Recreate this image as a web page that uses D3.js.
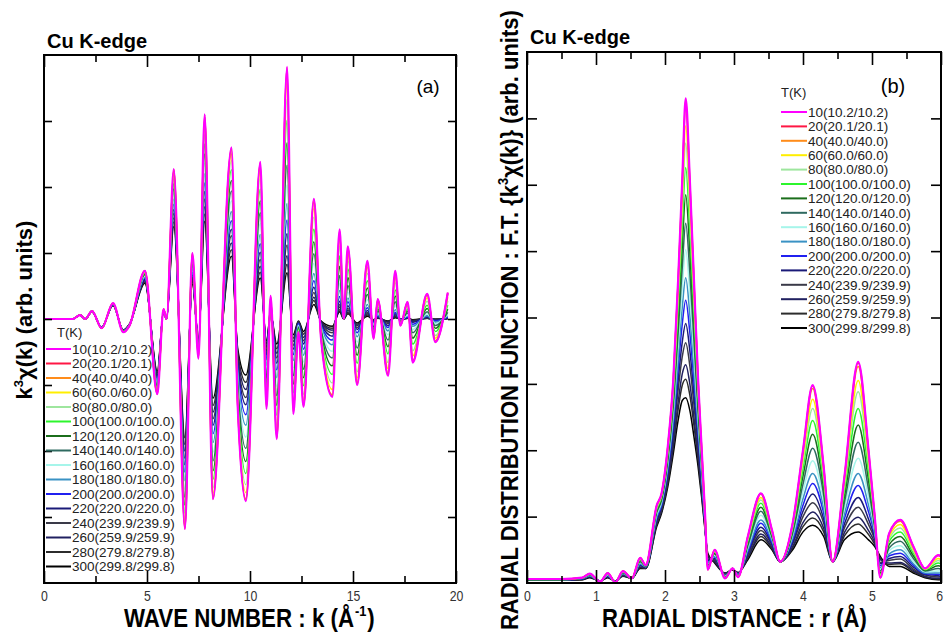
<!DOCTYPE html>
<html><head><meta charset="utf-8">
<script src="https://cdn.jsdelivr.net/npm/d3@7"></script>
<style>body{margin:0;background:#fff}svg{display:block}</style>
</head><body>
<svg id="chart" width="944" height="635"></svg>
<script>
// ---------- DATA ----------
const temperatures = [10,20,40,60,80,100,120,140,160,180,200,220,240,260,280,300];
const legendLabels = ["10(10.2/10.2)","20(20.1/20.1)","40(40.0/40.0)","60(60.0/60.0)","80(80.0/80.0)","100(100.0/100.0)","120(120.0/120.0)","140(140.0/140.0)","160(160.0/160.0)","180(180.0/180.0)","200(200.0/200.0)","220(220.0/220.0)","240(239.9/239.9)","260(259.9/259.9)","280(279.8/279.8)","300(299.8/299.8)"];
const xTicksA = [0,5,10,15,20];
const xTicksB = [0,1,2,3,4,5,6];

// panel (a): k^3 chi(k)
const kValues = [0,1.4,1.75,2.0,2.33,2.8,3.35,3.85,4.15,4.9,5.5,5.8,5.95,6.3,6.84,7.2,7.5,7.8,8.2,9.1,9.4,9.8,10.5,10.8,11.0,11.3,11.8,12.1,12.35,12.6,13.1,13.45,14.0,14.35,14.55,14.75,15.2,15.7,16.0,16.2,16.7,17.05,17.3,17.65,17.9,18.6,19.0,19.6];
const chi_10K  = [0,0,.06,0,.12,-.14,.24,-.20,-.10,.73,-1.14,.15,0,2.27,-3.18,1.00,-.60,3.10,-2.73,2.60,-1.30,-2.76,2.38,-1.36,.35,-1.82,3.82,-1.44,-.20,-1.33,1.82,-.30,-1.18,1.36,0,1.10,-1.00,.88,-.30,.30,-.86,.73,-.10,.26,-.66,.38,-.35,.40];
const chi_20K  = [0,0,.06,0,.12,-.14,.24,-.20,-.10,.73,-1.14,.15,0,2.27,-3.18,1.00,-.60,3.10,-2.73,2.59,-1.30,-2.75,2.37,-1.36,.35,-1.81,3.81,-1.43,-.20,-1.32,1.81,-.30,-1.17,1.35,0,1.09,-.99,.87,-.30,.30,-.85,.72,-.10,.26,-.65,.38,-.35,.40];
const chi_40K  = [0,0,.06,0,.12,-.14,.24,-.20,-.10,.73,-1.13,.15,0,2.26,-3.16,.99,-.60,3.07,-2.70,2.57,-1.28,-2.72,2.34,-1.34,.34,-1.79,3.74,-1.41,-.20,-1.30,1.77,-.29,-1.15,1.32,0,1.07,-.97,.85,-.29,.29,-.83,.70,-.10,.25,-.63,.36,-.33,.38];
const chi_60K  = [0,0,.06,0,.12,-.14,.24,-.20,-.10,.72,-1.12,.15,0,2.23,-3.11,.97,-.58,3.01,-2.64,2.50,-1.25,-2.63,2.26,-1.28,.33,-1.71,3.57,-1.34,-.19,-1.23,1.67,-.27,-1.07,1.23,0,.99,-.89,.78,-.26,.26,-.75,.63,-.09,.22,-.56,.32,-.29,.33];
const chi_80K  = [0,0,.06,0,.12,-.14,.24,-.20,-.10,.71,-1.11,.15,0,2.18,-3.04,.95,-.57,2.92,-2.56,2.40,-1.19,-2.51,2.14,-1.21,.31,-1.61,3.33,-1.25,-.17,-1.14,1.54,-.25,-.97,1.11,0,.89,-.80,.69,-.23,.23,-.66,.55,-.07,.19,-.48,.27,-.25,.27];
const chi_100K = [0,0,.06,0,.12,-.14,.24,-.19,-.10,.70,-1.08,.14,0,2.12,-2.94,.92,-.55,2.79,-2.43,2.26,-1.12,-2.34,1.97,-1.11,.28,-1.46,3.01,-1.12,-.15,-1.01,1.36,-.22,-.84,.96,0,.76,-.67,.58,-.19,.19,-.53,.44,-.06,.15,-.38,.21,-.19,.21];
const chi_120K = [0,0,.06,0,.12,-.14,.23,-.19,-.10,.69,-1.06,.14,0,2.05,-2.82,.88,-.52,2.65,-2.30,2.10,-1.04,-2.16,1.79,-1.01,.26,-1.31,2.67,-.99,-.14,-.89,1.17,-.19,-.71,.80,0,.63,-.55,.47,-.16,.15,-.42,.35,-.05,.12,-.29,.16,-.14,.15];
const chi_140K = [0,0,.06,0,.12,-.14,.23,-.19,-.09,.67,-1.02,.13,0,1.97,-2.70,.83,-.49,2.50,-2.15,1.94,-.95,-1.96,1.61,-.90,.23,-1.16,2.33,-.86,-.12,-.76,.99,-.16,-.59,.66,0,.51,-.44,.37,-.12,.12,-.32,.26,-.03,.09,-.21,.11,-.10,.10];
const chi_160K = [0,0,.06,0,.12,-.14,.23,-.19,-.09,.65,-.99,.13,0,1.90,-2.58,.79,-.47,2.36,-2.02,1.79,-.87,-1.79,1.45,-.80,.20,-1.02,2.03,-.74,-.10,-.65,.84,-.13,-.49,.54,0,.41,-.35,.29,-.09,.09,-.24,.20,-.03,.06,-.16,.08,-.07,.07];
const chi_180K = [0,0,.06,0,.12,-.13,.23,-.18,-.09,.64,-.96,.12,0,1.82,-2.45,.75,-.44,2.20,-1.87,1.63,-.79,-1.61,1.28,-.71,.18,-.89,1.75,-.63,-.09,-.55,.69,-.11,-.39,.43,0,.32,-.27,.22,-.07,.07,-.18,.14,-.02,.05,-.11,.05,-.05,.05];
const chi_200K = [0,0,.06,0,.12,-.13,.22,-.18,-.09,.62,-.93,.12,0,1.74,-2.32,.71,-.41,2.06,-1.74,1.49,-.72,-1.45,1.14,-.62,.16,-.77,1.50,-.54,-.07,-.46,.58,-.09,-.32,.34,0,.26,-.21,.17,-.05,.05,-.13,.10,-.01,.03,-.08,.04,-.03,.03];
const chi_220K = [0,0,.06,0,.11,-.13,.22,-.18,-.09,.60,-.90,.12,0,1.66,-2.21,.67,-.39,1.93,-1.61,1.36,-.65,-1.30,1.01,-.55,.14,-.67,1.29,-.46,-.06,-.38,.48,-.07,-.26,.27,0,.20,-.16,.13,-.04,.04,-.10,.08,-.01,.02,-.05,.03,-.02,.02];
const chi_240K = [0,0,.06,0,.11,-.13,.22,-.18,-.08,.59,-.87,.11,0,1.60,-2.11,.63,-.37,1.82,-1.51,1.26,-.60,-1.19,.90,-.49,.12,-.59,1.12,-.40,-.05,-.33,.40,-.06,-.21,.22,0,.16,-.13,.10,-.03,.03,-.07,.06,-.01,.02,-.04,.02,-.01,.01];
const chi_260K = [0,0,.06,0,.11,-.13,.21,-.17,-.08,.58,-.85,.11,0,1.53,-2.00,.60,-.34,1.70,-1.41,1.15,-.54,-1.07,.80,-.43,.11,-.52,.96,-.34,-.04,-.28,.33,-.05,-.17,.18,0,.13,-.10,.08,-.02,.02,-.05,.04,-.01,.01,-.03,.01,-.01,.01];
const chi_280K = [0,0,.06,0,.11,-.13,.21,-.17,-.08,.56,-.82,.10,0,1.47,-1.90,.57,-.32,1.59,-1.31,1.05,-.49,-.96,.71,-.38,.09,-.45,.83,-.29,-.04,-.23,.28,-.04,-.14,.14,0,.10,-.08,.06,-.02,.02,-.04,.03,0,.01,-.02,.01,-.01,.01];
const chi_300K = [0,0,.06,0,.11,-.13,.21,-.17,-.08,.54,-.79,.10,0,1.40,-1.80,.53,-.30,1.48,-1.20,.95,-.44,-.85,.62,-.33,.08,-.38,.70,-.24,-.03,-.19,.22,-.03,-.11,.11,0,.08,-.06,.04,-.01,.01,-.03,.02,0,.01,-.01,.01,0,0];

// panel (b): |F.T.| radial distribution
const rValues = [0,0.5,0.8,0.91,1.06,1.17,1.28,1.39,1.52,1.64,1.72,1.88,1.95,2.04,2.12,2.19,2.25,2.30,2.36,2.42,2.48,2.53,2.58,2.62,2.72,2.87,2.98,3.06,3.20,3.39,3.55,3.67,3.85,4.00,4.14,4.30,4.43,4.60,4.80,4.95,5.04,5.12,5.25,5.41,5.60,5.77,5.96,6.00];
const rdf_10K  = [.06,.06,.08,.14,.02,.15,.01,.18,.07,.38,.27,1.17,1.35,2.05,3.06,4.56,6.07,7.30,6.07,4.56,3.06,2.05,1.05,.20,.50,.07,.22,.09,.70,1.35,.80,.32,.90,2.00,2.98,1.75,.32,1.60,3.33,2.00,1.00,.08,.75,.95,.55,.22,.42,.40];
const rdf_20K  = [.06,.06,.08,.14,.02,.15,.01,.18,.07,.38,.27,1.17,1.35,2.05,3.06,4.55,6.06,7.29,6.06,4.55,3.06,2.05,1.05,.20,.50,.07,.22,.09,.70,1.35,.80,.32,.90,2.00,2.97,1.75,.32,1.60,3.32,2.00,1.00,.08,.75,.95,.55,.22,.42,.40];
const rdf_40K  = [.06,.06,.08,.14,.02,.15,.01,.18,.07,.38,.27,1.16,1.34,2.04,3.04,4.52,6.00,7.20,5.99,4.51,3.03,2.04,1.05,.20,.50,.07,.22,.09,.69,1.34,.79,.32,.89,1.97,2.93,1.73,.32,1.58,3.26,1.97,.99,.08,.74,.93,.54,.22,.41,.39];
const rdf_60K  = [.06,.06,.08,.14,.02,.15,.01,.18,.07,.37,.27,1.15,1.33,2.01,2.98,4.39,5.79,6.89,5.77,4.36,2.96,1.99,1.03,.21,.49,.07,.22,.09,.67,1.29,.78,.32,.87,1.89,2.77,1.66,.32,1.52,3.05,1.87,.96,.10,.70,.88,.51,.21,.37,.35];
const rdf_80K  = [.06,.06,.08,.13,.02,.14,.01,.17,.07,.36,.27,1.13,1.32,1.98,2.93,4.29,5.61,6.63,5.58,4.24,2.89,1.96,1.02,.22,.48,.08,.22,.10,.65,1.25,.76,.32,.85,1.82,2.63,1.60,.32,1.46,2.88,1.79,.94,.11,.67,.83,.48,.21,.34,.32];
const rdf_100K = [.06,.06,.07,.13,.02,.14,.01,.17,.07,.35,.26,1.11,1.30,1.94,2.85,4.13,5.35,6.26,5.30,4.06,2.80,1.91,1.01,.23,.47,.08,.22,.10,.63,1.20,.74,.32,.82,1.72,2.45,1.51,.32,1.39,2.63,1.67,.91,.13,.63,.77,.45,.20,.30,.29];
const rdf_120K = [.05,.05,.07,.13,.02,.13,.02,.16,.07,.34,.26,1.09,1.27,1.89,2.76,3.95,5.06,5.85,4.99,3.86,2.69,1.85,.99,.24,.45,.09,.22,.11,.60,1.14,.72,.32,.79,1.61,2.24,1.42,.32,1.30,2.38,1.54,.87,.15,.58,.70,.41,.19,.26,.25];
const rdf_140K = [.05,.05,.07,.12,.02,.13,.02,.16,.07,.32,.25,1.06,1.25,1.84,2.66,3.76,4.75,5.42,4.67,3.64,2.57,1.78,.97,.26,.44,.09,.22,.11,.56,1.08,.69,.32,.75,1.49,2.03,1.32,.32,1.21,2.12,1.41,.83,.18,.53,.63,.37,.18,.22,.21];
const rdf_160K = [.05,.05,.07,.12,.02,.12,.02,.15,.07,.31,.25,1.03,1.22,1.79,2.57,3.58,4.46,5.02,4.36,3.43,2.46,1.72,.94,.27,.42,.10,.21,.12,.53,1.02,.67,.32,.72,1.38,1.84,1.22,.32,1.13,1.88,1.29,.79,.20,.49,.56,.33,.17,.18,.18];
const rdf_180K = [.05,.05,.07,.11,.02,.12,.02,.14,.07,.29,.25,1.00,1.20,1.74,2.46,3.38,4.15,4.60,4.04,3.21,2.34,1.65,.92,.30,.40,.11,.21,.12,.50,.95,.64,.32,.68,1.27,1.65,1.13,.32,1.04,1.65,1.17,.75,.23,.44,.50,.29,.15,.15,.15];
const rdf_200K = [.05,.05,.06,.11,.03,.11,.02,.14,.07,.28,.24,.98,1.17,1.69,2.38,3.22,3.90,4.26,3.77,3.03,2.24,1.59,.90,.31,.39,.11,.21,.13,.47,.90,.61,.32,.65,1.17,1.50,1.05,.32,.97,1.47,1.07,.72,.26,.41,.45,.27,.14,.13,.12];
const rdf_220K = [.05,.05,.06,.10,.03,.10,.02,.13,.07,.27,.24,.95,1.15,1.64,2.28,3.05,3.63,3.91,3.50,2.84,2.13,1.52,.88,.34,.37,.12,.21,.14,.45,.84,.59,.32,.61,1.08,1.34,.96,.32,.89,1.29,.96,.68,.29,.37,.40,.24,.13,.11,.10];
const rdf_240K = [.05,.05,.06,.10,.03,.10,.02,.12,.07,.26,.23,.93,1.12,1.59,2.20,2.90,3.41,3.62,3.27,2.68,2.03,1.47,.86,.36,.35,.13,.21,.14,.42,.79,.57,.32,.59,1.00,1.21,.90,.32,.83,1.14,.88,.65,.31,.34,.36,.21,.12,.09,.09];
const rdf_260K = [.04,.04,.06,.09,.03,.09,.03,.11,.07,.24,.23,.90,1.10,1.54,2.10,2.72,3.15,3.29,3.00,2.49,1.92,1.40,.84,.39,.33,.14,.20,.15,.39,.74,.54,.32,.55,.91,1.07,.82,.32,.76,.99,.79,.61,.35,.30,.31,.19,.10,.07,.07];
const rdf_280K = [.04,.04,.05,.09,.03,.09,.03,.11,.07,.23,.22,.88,1.08,1.50,2.04,2.61,2.98,3.07,2.83,2.37,1.85,1.36,.82,.42,.32,.14,.20,.15,.38,.70,.52,.32,.53,.85,.98,.77,.32,.71,.89,.73,.58,.37,.28,.29,.17,.09,.06,.06];
const rdf_300K = [.04,.04,.05,.08,.03,.08,.03,.10,.07,.22,.22,.85,1.05,1.45,1.95,2.45,2.75,2.79,2.60,2.20,1.75,1.30,.80,.45,.30,.15,.20,.16,.35,.65,.50,.32,.50,.77,.87,.70,.32,.65,.77,.65,.55,.40,.25,.25,.15,.08,.05,.05];

const seriesColors = ["#ff00ff","#ff1744","#ff8c1a","#ffee00","#9ee69e","#2cf52c","#1b6e1b","#2f6a60","#a6f5ea","#3a92c4","#2020f0","#1a1a78","#3a3a48","#202060","#2c2c2c","#000000"];

const chiSeries = [chi_10K,chi_20K,chi_40K,chi_60K,chi_80K,chi_100K,chi_120K,chi_140K,chi_160K,chi_180K,chi_200K,chi_220K,chi_240K,chi_260K,chi_280K,chi_300K];
const rdfSeries = [rdf_10K,rdf_20K,rdf_40K,rdf_60K,rdf_80K,rdf_100K,rdf_120K,rdf_140K,rdf_160K,rdf_180K,rdf_200K,rdf_220K,rdf_240K,rdf_260K,rdf_280K,rdf_300K];

// ---------- DRAW ----------
const svg = d3.select("#chart");
const SANS = "'Liberation Sans',Arial,sans-serif";

function panel(o){
  const g = svg.append("g");
  const x = d3.scaleLinear().domain(o.xDomain).range([o.x0,o.x1]);
  const y = d3.scaleLinear().domain(o.yDomain).range([o.y1,o.y0]);
  const clipId = "clip"+o.id;
  svg.append("clipPath").attr("id",clipId).append("rect")
    .attr("x",o.x0).attr("y",o.y0).attr("width",o.x1-o.x0).attr("height",o.y1-o.y0);
  const line = d3.line().curve(d3.curveMonotoneX);
  const lg = g.append("g").attr("clip-path",`url(#${clipId})`);
  for(let i=o.series.length-1;i>=0;i--){
    const pts = o.xs.map((v,j)=>[x(v), y(o.series[i][j])]);
    lg.append("path").attr("d",line(pts)).attr("fill","none")
      .attr("stroke",seriesColors[i]).attr("stroke-width", i===0?2.2:1.5)
      .attr("stroke-linejoin","round");
  }
  const styleAxis = sel => { sel.select(".domain").remove(); sel.selectAll("line").attr("stroke","#000").attr("stroke-width",1.6); };
  g.append("g").attr("transform",`translate(0,${o.y1})`)
    .call(d3.axisBottom(x).tickValues(o.minorX).tickSizeInner(-o.minorLen).tickSizeOuter(0).tickFormat(""))
    .call(styleAxis);
  g.append("g").attr("transform",`translate(0,${o.y0})`)
    .call(d3.axisTop(x).tickValues(o.minorX).tickSizeInner(-o.minorLen).tickSizeOuter(0).tickFormat(""))
    .call(styleAxis);
  g.append("g").attr("class","xlab").attr("transform",`translate(0,${o.y1})`)
    .call(d3.axisBottom(x).tickValues(o.majorX).tickSizeInner(-o.majorLen).tickSizeOuter(0).tickPadding(7).tickFormat(d3.format("d")))
    .call(styleAxis)
    .call(s=>s.selectAll("text").attr("font-family",SANS).attr("font-size",15).attr("fill","#333")
      .attr("transform","scale(0.82,1)"));
  g.append("g").attr("transform",`translate(0,${o.y0})`)
    .call(d3.axisTop(x).tickValues(o.majorX).tickSizeInner(-o.majorLen).tickSizeOuter(0).tickFormat(""))
    .call(styleAxis);
  g.append("g").attr("transform",`translate(${o.x0},0)`)
    .call(d3.axisLeft(y).tickValues(o.yTicks).tickSizeInner(-o.yLen).tickSizeOuter(0).tickFormat(""))
    .call(styleAxis);
  g.append("g").attr("transform",`translate(${o.x1},0)`)
    .call(d3.axisRight(y).tickValues(o.yTicks).tickSizeInner(-o.yLen).tickSizeOuter(0).tickFormat(""))
    .call(styleAxis);
  g.append("rect").attr("x",o.x0).attr("y",o.y0).attr("width",o.x1-o.x0).attr("height",o.y1-o.y0)
    .attr("fill","none").attr("stroke","#000").attr("stroke-width",2);
  const L = g.append("g");
  L.append("text").attr("x",o.leg.tx).attr("y",o.leg.ty).text("T(K)")
    .attr("font-family",SANS).attr("font-size",13).attr("fill","#222");
  legendLabels.forEach((lab,i)=>{
    const yy = o.leg.y + i*o.leg.dy;
    L.append("line").attr("x1",o.leg.lx0).attr("x2",o.leg.lx1).attr("y1",yy).attr("y2",yy)
      .attr("stroke",seriesColors[i]).attr("stroke-width",2);
    L.append("text").attr("x",o.leg.lx1+1).attr("y",yy).attr("dy","0.36em").text(lab)
      .attr("font-family",SANS).attr("font-size",13.5).attr("fill","#222");
  });
  return {x,y,g};
}

const A = panel({id:"A", x0:44, x1:456, y0:55, y1:583, xDomain:[0,20], yDomain:[-4,4],
  xs:kValues, series:chiSeries,
  minorX:[2.5,7.5,12.5,17.5], majorX:xTicksA, minorLen:7, majorLen:12,
  yTicks:[-3,-2,-1,0,1,2,3], yLen:8,
  leg:{tx:57, ty:337, y:349, dy:14.5, lx0:46, lx1:71}});

const B = panel({id:"B", x0:527, x1:941, y0:52, y1:583, xDomain:[0,6], yDomain:[0,8],
  xs:rValues, series:rdfSeries,
  minorX:[0.5,1.5,2.5,3.5,4.5,5.5], majorX:xTicksB, minorLen:7, majorLen:13,
  yTicks:[1,2,3,4,5,6,7], yLen:10,
  leg:{tx:781, ty:97, y:112, dy:14.4, lx0:781, lx1:807}});

// keep the last "6" label of panel (b) inside the picture
B.g.select(".xlab").selectAll(".tick text").filter(d=>d===6)
  .attr("text-anchor","end").attr("x",2);

// titles
svg.append("text").attr("x",47).attr("y",48).text("Cu K-edge")
  .attr("font-family",SANS).attr("font-weight","bold").attr("font-size",20);
svg.append("text").attr("x",530).attr("y",44).text("Cu K-edge")
  .attr("font-family",SANS).attr("font-weight","bold").attr("font-size",20);
svg.append("text").attr("x",428).attr("y",93).attr("text-anchor","middle").text("(a)")
  .attr("font-family",SANS).attr("font-size",19);
svg.append("text").attr("x",893).attr("y",93).attr("text-anchor","middle").text("(b)")
  .attr("font-family",SANS).attr("font-size",20);

// condensed titles: measure, then squeeze horizontally to the reference length
function fitTitle(t, tx, ty, rot, target){
  const len = t.node().getComputedTextLength();
  const s = Math.min(1, target/len);
  t.attr("transform",`translate(${tx},${ty}) rotate(${rot}) scale(${s},1)`);
}

const xtA = svg.append("text").attr("font-family",SANS).attr("font-weight","bold").attr("font-size",26);
xtA.append("tspan").text("WAVE NUMBER : k (Å");
xtA.append("tspan").text("-1").attr("font-size",15).attr("dy",-11).attr("dx",1);
xtA.append("tspan").text(")").attr("dy",11).attr("dx",1);
fitTitle(xtA, 124, 627, 0, 249);

const xtB = svg.append("text").attr("font-family",SANS).attr("font-weight","bold").attr("font-size",26)
  .text("RADIAL DISTANCE : r (Å)");
fitTitle(xtB, 602, 627, 0, 265);

// y axis titles
const ytA = svg.append("text").attr("transform","translate(32,310) rotate(-90)").attr("text-anchor","middle")
  .attr("font-family",SANS).attr("font-weight","bold").attr("font-size",22);
ytA.append("tspan").text("k");
ytA.append("tspan").text("3").attr("font-size",13).attr("dy",-9);
ytA.append("tspan").text("χ(k) (arb. units)").attr("dy",9);

const ytB = svg.append("text").attr("font-family",SANS).attr("font-weight","bold").attr("font-size",24);
ytB.append("tspan").text("RADIAL DISTRIBUTION FUNCTION : F.T. {k");
ytB.append("tspan").text("3").attr("font-size",14).attr("dy",-10);
ytB.append("tspan").text("χ(k)} (arb. units)").attr("dy",10);
fitTitle(ytB, 518, 630, -90, 620);
</script>
</body></html>
